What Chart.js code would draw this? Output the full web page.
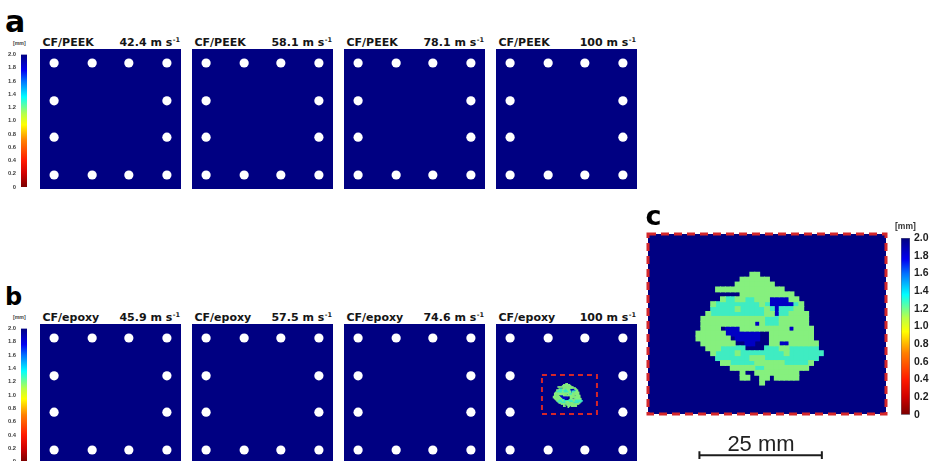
<!DOCTYPE html>
<html><head><meta charset="utf-8">
<script src="https://cdn.jsdelivr.net/npm/chart.js@4.4.1/dist/chart.umd.min.js"></script>
<style>
html,body{margin:0;padding:0;background:#fff;width:931px;height:461px;overflow:hidden;position:relative;}
canvas{position:absolute;display:block;}
.t{position:absolute;white-space:nowrap;line-height:1;color:#151515;}
.sup{position:relative;font-size:6.5px;top:-4.2px;margin-left:0.5px;}
</style></head><body>
<script>
// ---------------- data ----------------
const MATERIALS = ['CF/PEEK', 'CF/epoxy'];
const PEEK_SPEEDS = ['42.4', '58.1', '78.1', '100'];
const EPOXY_SPEEDS = ['45.9', '57.5', '74.6', '100'];
const PANEL_LABELS = ['a', 'b', 'c'];
// bolt holes, in % of the plate width / height
const HOLES_X = [10, 37, 63, 90, 10, 90, 10, 90, 10, 37, 63, 90];
const HOLES_Y = [10, 10, 10, 10, 37, 37, 63, 63, 90, 90, 90, 90];
// colour bar (thickness, mm)
const CBAR_TICKS = [0, 0.2, 0.4, 0.6, 0.8, 1.0, 1.2, 1.4, 1.6, 1.8, 2.0];
const CBAR_MIN = 0, CBAR_MAX = 2.0;
const CBAR_UNIT = '[mm]';
// damage map of the 100 m/s CF/epoxy plate, 1 mm cells (26 columns)
// g = 1.0 mm, c = 1.2 mm, b = 1.8 mm, n = 2.0 mm, . = undamaged
const DAMAGE_ROWS = [
  '...........gg.............',
  '.........gggggg...........',
  '........gggggggg..........',
  '....gggggggggggggg........',
  '.........ggggggggggg......',
  '.....gccggccgggbbbbgg.....',
  '...gcccccccccgcbbbbbcg....',
  '...cccccgcccccgcbcccgg....',
  '..gcccccccccccggbccgggg...',
  '.gggggggggggggcccgggggg...',
  '.gggggggggggbgcccgggggg...',
  '.ggggnbbbggggggggggbgggg..',
  'ggggggbbbbbbbnnggggggggg..',
  'gggggggnbbbbbnnggggggggg..',
  '.gggggggnnbbnnnggbbgggggg.',
  '..gggcccccnnnncccggcccccc.',
  '...gccccgcccccccccgccccccc',
  '....cccccccgggccccccccccc.',
  '.....ggcccccggggggcccccg..',
  '.......gggggccggggggggg...',
  '.........g..ggggggggg.....',
  '.........gg..gg.ggggg.....',
  '.............g............'
];
const DAMAGE_CODES = ['g', 'c', 'b', 'n'];
const DAMAGE_DEPTH = [1.0, 1.2, 1.8, 2.0];
const VIEW_W_MM = 48.6, VIEW_H_MM = 36.7;     // size of the enlarged view (c)
const DAMAGE_X0 = 9.8, DAMAGE_Y0 = 7.8;        // map origin inside the view, mm
const SCALE_BAR_MM = 25;
const SCALE_BAR_TEXT = '25 mm';

// ---------------- style ----------------
const NAVY = '#000082';
const DAMAGE_COLORS = { g: '#86f07e', c: '#3fecc2', b: '#0000c4', n: NAVY };
const CMAP = [[0, '#7a0000'], [0.1, '#d00000'], [0.2, '#ff1a00'], [0.35, '#ff8000'],
              [0.47, '#ffff00'], [0.55, '#b8ff48'], [0.68, '#00ffff'], [0.8, '#0070ff'],
              [0.88, '#0000f0'], [1, '#000080']];
const PANEL_LEFTS = [40, 192, 344, 496], PANEL_W = 141, PANEL_H = 140;
const ROW_TOPS = [49, 324];
const ZOOM_BOX = { x0: 32.6, x1: 71.6, y0: 36.4, y1: 64.3 };   // % of plate in panel b4

Chart.defaults.font.family = '"Liberation Sans", Arial, sans-serif';

function mkCanvas(l, t, w, h) {
  const c = document.createElement('canvas');
  c.width = w; c.height = h;
  c.style.left = l + 'px'; c.style.top = t + 'px';
  c.style.width = w + 'px'; c.style.height = h + 'px';
  document.body.appendChild(c);
  return c;
}
function mkText(html, l, baseline, size, family, weight, extra) {
  const d = document.createElement('div');
  d.className = 't';
  d.innerHTML = html;
  d.style.fontFamily = family;
  d.style.fontWeight = weight;
  d.style.fontSize = size + 'px';
  d.style.top = (baseline - 0.846 * size) + 'px';
  d.style.left = l + 'px';
  if (extra) Object.assign(d.style, extra);
  document.body.appendChild(d);
  return d;
}

const bgPlugin = {
  id: 'bg',
  beforeDatasetsDraw(chart) {
    const a = chart.chartArea, c = chart.ctx;
    c.save(); c.fillStyle = NAVY;
    c.fillRect(a.left, a.top, a.right - a.left, a.bottom - a.top);
    c.restore();
  }
};

function damagePoints(code, mapX, mapY) {
  const pts = [];
  DAMAGE_ROWS.forEach((row, r) => {
    for (let k = 0; k < row.length; k++) {
      if (row[k] === code) {
        pts.push({ x: mapX(DAMAGE_X0 + k + 0.5), y: mapY(DAMAGE_Y0 + r + 0.5) });
      }
    }
  });
  return pts;
}
function cellRadius(unit, extra) {
  return (ctx) => {
    const s = ctx.chart.scales.x;
    const px = Math.abs(s.getPixelForValue(unit) - s.getPixelForValue(0));
    return (px + extra) / Math.SQRT2;
  };
}
function damageDatasets(mapX, mapY, unit, extra) {
  return DAMAGE_CODES.map(code => ({
    data: damagePoints(code, mapX, mapY),
    pointStyle: 'rect',
    pointRadius: cellRadius(unit, extra),
    pointHoverRadius: cellRadius(unit, extra),
    pointBackgroundColor: DAMAGE_COLORS[code],
    pointBorderWidth: 0,
    pointHoverBorderWidth: 0
  }));
}

function dashedBox(id, getRect, width, dash) {
  return {
    id,
    afterDatasetsDraw(chart) {
      const r = getRect(chart), c = chart.ctx;
      c.save();
      c.strokeStyle = '#d4262a';
      c.lineWidth = width;
      c.setLineDash(dash);
      c.strokeRect(r.l, r.t, r.r - r.l, r.b - r.t);
      c.restore();
    }
  };
}

const baseOpts = () => ({
  responsive: false, animation: false, events: [], devicePixelRatio: 1,
  plugins: { legend: { display: false }, tooltip: { enabled: false } }
});

// ---------------- panels a and b ----------------
function panelChart(canvas, extraDatasets, extraPlugins) {
  const holes = HOLES_X.map((x, i) => ({ x, y: HOLES_Y[i] }));
  return new Chart(canvas, {
    type: 'scatter',
    data: {
      datasets: [{
        data: holes, pointRadius: 4.6, pointHoverRadius: 4.6,
        pointBackgroundColor: '#ffffff', pointBorderWidth: 0, pointHoverBorderWidth: 0
      }].concat(extraDatasets || [])
    },
    options: Object.assign(baseOpts(), {
      layout: { padding: 0, autoPadding: false },
      scales: {
        x: { type: 'linear', min: 0, max: 100, display: false },
        y: { type: 'linear', min: 0, max: 100, reverse: true, display: false }
      }
    }),
    plugins: [bgPlugin].concat(extraPlugins || [])
  });
}

const TITLE_FONT = '"DejaVu Sans", sans-serif';
[PEEK_SPEEDS, EPOXY_SPEEDS].forEach((speeds, row) => {
  const top = ROW_TOPS[row];
  const base = top - 2.2;
  speeds.forEach((sp, i) => {
    const left = PANEL_LEFTS[i];
    const cv = mkCanvas(left, top, PANEL_W, PANEL_H);
    if (row === 1 && i === 3) {
      const sx = (ZOOM_BOX.x1 - ZOOM_BOX.x0) / VIEW_W_MM;
      const sy = (ZOOM_BOX.y1 - ZOOM_BOX.y0) / VIEW_H_MM;
      const ds = damageDatasets(v => ZOOM_BOX.x0 + v * sx, v => ZOOM_BOX.y0 + v * sy, sx, 0.5);
      const box = dashedBox('zoombox', ch => ({
        l: ch.scales.x.getPixelForValue(ZOOM_BOX.x0), r: ch.scales.x.getPixelForValue(ZOOM_BOX.x1),
        t: ch.scales.y.getPixelForValue(ZOOM_BOX.y0), b: ch.scales.y.getPixelForValue(ZOOM_BOX.y1)
      }), 2, [5, 4]);
      panelChart(cv, ds, [box]);
    } else {
      panelChart(cv, [], []);
    }
    mkText(MATERIALS[row], left + 2.5, base, 11, TITLE_FONT, 'bold');
    mkText(sp + ' m s<span class="sup">-1</span>', left, base, 11, TITLE_FONT, 'bold',
      { width: (PANEL_W - 1) + 'px', textAlign: 'right' });
  });
});

// ---------------- colour bars ----------------
function jetGradient(ctx) {
  const ch = ctx.chart, a = ch.chartArea;
  if (!a) return '#888';
  const g = ch.ctx.createLinearGradient(0, a.bottom, 0, a.top);
  CMAP.forEach(([t, c]) => g.addColorStop(t, c));
  return g;
}
function colorBar(canvas, opts) {
  return new Chart(canvas, {
    type: 'bar',
    data: {
      labels: [''],
      datasets: [{
        data: [[CBAR_MIN, CBAR_MAX]], backgroundColor: jetGradient,
        barPercentage: 1, categoryPercentage: 1, borderSkipped: false,
        borderWidth: opts.border, borderColor: 'rgba(70,70,90,0.8)'
      }]
    },
    options: Object.assign(baseOpts(), {
      layout: { padding: opts.padding, autoPadding: false },
      scales: {
        x: { display: false },
        y: {
          position: opts.position, min: CBAR_MIN, max: CBAR_MAX,
          afterBuildTicks: s => { s.ticks = CBAR_TICKS.map(v => ({ value: v })); },
          afterFit: s => { s.width = opts.axisWidth; },
          grid: { display: false, drawTicks: false },
          border: { display: false },
          ticks: {
            padding: opts.tickPad, color: opts.color, autoSkip: false,
            font: { size: opts.fontSize, weight: 'bold', family: '"Liberation Sans", Arial, sans-serif' },
            callback: v => (v === 0 ? '0' : Number(v).toFixed(1))
          }
        }
      }
    })
  });
}
// colour bars of rows a and b
[[46, 54, 187], [320, 328, 462]].forEach(([ct, top, bottom]) => {
  const h = 150;
  colorBar(mkCanvas(0, ct, 30, h), {
    position: 'left', axisWidth: 21, tickPad: 5, fontSize: 5.8, color: '#3a3a3a', border: 0,
    padding: { top: top - ct, bottom: h - (bottom - ct), left: 0, right: 3 }
  });
  mkText(CBAR_UNIT, 13, top - 9, 5.2, '"Liberation Sans", Arial', 'bold', { color: '#444' });
});
// colour bar of c
colorBar(mkCanvas(888, 225, 43, 200), {
  position: 'right', axisWidth: 21, tickPad: 4, fontSize: 10.5, color: '#1e1e1e', border: 0.8,
  padding: { top: 13, bottom: 8, left: 13, right: 0 }
});
mkText(CBAR_UNIT, 895, 229, 8.5, '"Liberation Sans", Arial', 'bold', { color: '#333' });

// ---------------- panel c ----------------
const cCanvas = mkCanvas(640, 200, 250, 261);
const barY = 45.1, barX0 = 10.5, capH = 0.8;
const scaleLine = (pts) => ({
  data: pts, showLine: true, borderColor: '#1c1c1c', borderWidth: 2,
  pointRadius: 0, pointHoverRadius: 0, clip: false, borderCapStyle: 'butt'
});
new Chart(cCanvas, {
  type: 'scatter',
  data: {
    datasets: damageDatasets(v => v, v => v, 1, 1.0).concat([
      scaleLine([{ x: barX0, y: barY }, { x: barX0 + SCALE_BAR_MM, y: barY }]),
      scaleLine([{ x: barX0, y: barY - capH }, { x: barX0, y: barY + capH }]),
      scaleLine([{ x: barX0 + SCALE_BAR_MM, y: barY - capH }, { x: barX0 + SCALE_BAR_MM, y: barY + capH }])
    ])
  },
  options: Object.assign(baseOpts(), {
    layout: { padding: { left: 8, top: 34, right: 4, bottom: 47 }, autoPadding: false },
    scales: {
      x: { type: 'linear', min: 0, max: VIEW_W_MM, display: false },
      y: { type: 'linear', min: 0, max: VIEW_H_MM, reverse: true, display: false }
    }
  }),
  plugins: [bgPlugin, dashedBox('cbox', ch => ({
    l: ch.chartArea.left, r: ch.chartArea.right, t: ch.chartArea.top, b: ch.chartArea.bottom
  }), 3, [8, 5])]
});
mkText(SCALE_BAR_TEXT, 699, 452, 22, '"Liberation Sans", Arial', 'normal',
  { width: '124px', textAlign: 'center', color: '#222' });

// ---------------- panel letters ----------------
mkText(PANEL_LABELS[0], 5, 32, 30, '"DejaVu Sans"', 'bold', { color: '#000' });
mkText(PANEL_LABELS[1], 5, 305, 24, '"DejaVu Sans"', 'bold', { color: '#000' });
mkText(PANEL_LABELS[2], 645.5, 225, 27, '"DejaVu Sans"', 'bold', { color: '#000' });
</script>
</body></html>
